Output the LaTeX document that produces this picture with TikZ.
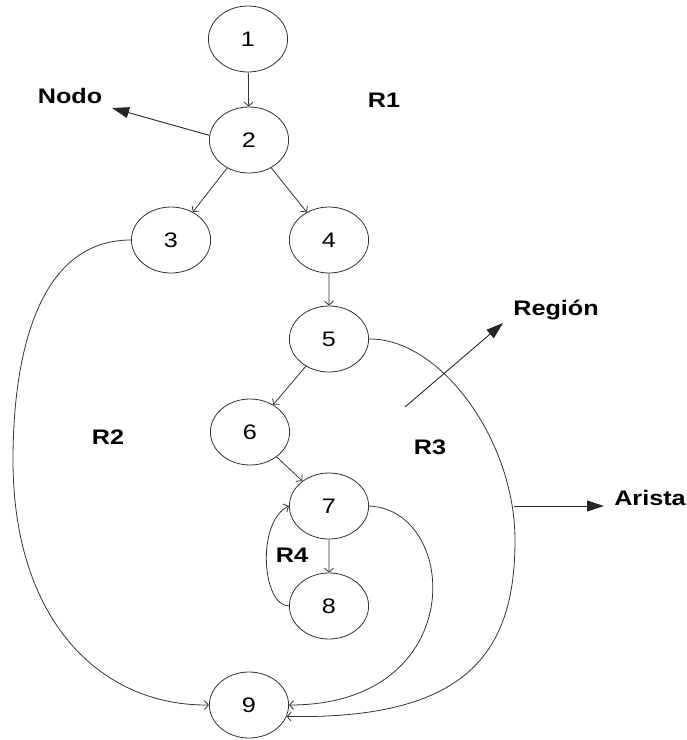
\documentclass[tikz,border=0pt]{standalone}
\usepackage{fontspec}
\setmainfont{Liberation Sans}
\usetikzlibrary{arrows.meta}

\tikzset{
  vert/.style={circle,draw=black!80,line width=0.8pt,minimum size=66pt,inner sep=0pt,xscale=1.2,
    font=\fontsize{21}{21}\selectfont},
  edge/.style={draw=black!80,line width=0.8pt,-{Straight Barb[length=4pt,width=9pt]}},
  note/.style={draw=black!85,line width=0.9pt,-{Triangle[length=17pt,width=11pt]}},
  tag/.style={font=\bfseries\fontsize{21}{21}\selectfont,xscale=1.2}
}

\begin{document}
\begin{tikzpicture}[x=1pt,y=-1pt]
\useasboundingbox (0,0) rectangle (687,740);
% nodos del grafo
\node[vert] (n1) at (248,39) {1};
\node[vert] (n2) at (249,140) {2};
\node[vert] (n3) at (171,240) {3};
\node[vert] (n4) at (329,240) {4};
\node[vert] (n5) at (329,339) {5};
\node[vert] (n6) at (250,432) {6};
\node[vert] (n7) at (329,506) {7};
\node[vert] (n8) at (329,606) {8};
\node[vert] (n9) at (249,705) {9};
% aristas rectas
\draw[edge] (n1) -- (n2);
\draw[edge] (n2) -- (n3);
\draw[edge] (n2) -- (n4);
\draw[edge] (n4) -- (n5);
\draw[edge] (n5) -- (n6);
\draw[edge] (n6) -- (n7);
\draw[edge] (n7) -- (n8);
% aristas curvas
\draw[edge] (n3.west) .. controls (35,240) and (13,362) .. (13,460)
  .. controls (13,620) and (100,706) .. (n9.west);
\draw[edge] (n5.east) .. controls (440,338) and (515,440) .. (515,540)
  .. controls (515,650) and (470,720) .. (n9.-20);
\draw[edge] (n7.east) .. controls (460,510) and (470,705) .. (n9.east);
\draw[edge] (n8.west) .. controls (262,606) and (256,522) .. (n7.west);
% regiones
\node[tag] (r1) at (384,100) {R1};
\node[tag] (r2) at (108,437) {R2};
\node[tag] (r3) at (430,447) {R3};
\node[tag] (r4) at (292,555) {R4};
% etiquetas con flecha
\node[tag] (nodo) at (70,96) {Nodo};
\node[tag] (region) at (556,310) {Región};
\node[tag] (arista) at (650,498) {Arista};
\coordinate (nodotip) at (112,108);
\coordinate (regfrom) at (405,407);
\coordinate (regtip) at (503,323);
\coordinate (arifrom) at (514,506);
\coordinate (aritip) at (604,506);
\draw[note] (n2.172) -- (nodotip);
\draw[note] (regfrom) -- (regtip);
\draw[note] (arifrom) -- (aritip);
\end{tikzpicture}
\end{document}
